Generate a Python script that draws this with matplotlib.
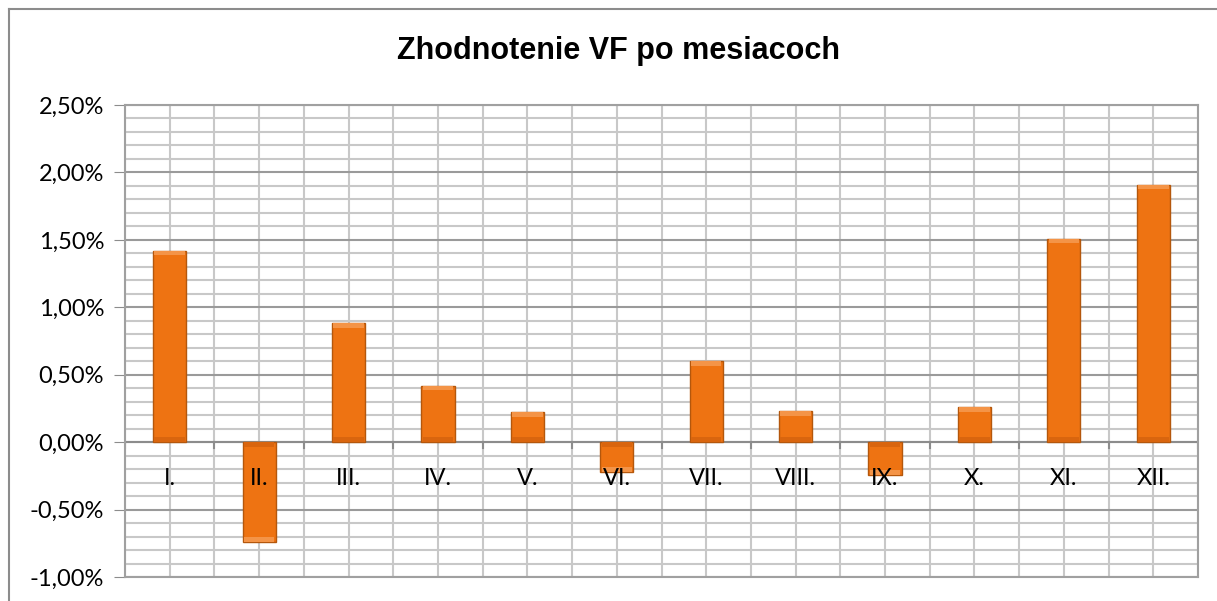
import matplotlib
matplotlib.use("Agg")
import matplotlib.pyplot as plt
from matplotlib.lines import Line2D
from matplotlib.ticker import FixedLocator, MultipleLocator, FuncFormatter
import numpy as np

# data
months = ["I.", "II.", "III.", "IV.", "V.", "VI.", "VII.", "VIII.", "IX.", "X.", "XI.", "XII."]
values = [1.42, -0.74, 0.88, 0.42, 0.22, -0.22, 0.60, 0.23, -0.24, 0.26, 1.51, 1.91]
title = "Zhodnotenie VF po mesiacoch"

def main():
    fig = plt.figure(figsize=(12.17, 6.01), dpi=100)
    ax = fig.add_axes([125 / 1217, 1 - 577 / 601, (1198 - 125) / 1217, (577 - 105) / 601])

    # chart border (top and left edge visible)
    fig.add_artist(Line2D([9 / 1217, 1.0], [1 - 9 / 601, 1 - 9 / 601], color="#8c8c8c", lw=1.5))
    fig.add_artist(Line2D([9 / 1217, 9 / 1217], [0.0, 1 - 9 / 601], color="#8c8c8c", lw=1.5))

    x = np.arange(len(months))
    w = 0.37
    ax.bar(x, values, width=w, color="#EE7312", edgecolor="#B4570C", linewidth=1.0, zorder=3)
    # soft bevel on the bar ends
    for xi, v in zip(x, values):
        s = np.sign(v)
        ax.bar(xi, 0.035 * s, bottom=v - 0.035 * s, width=w * 0.92,
               color="#F49447", linewidth=0, zorder=3.5)
        ax.bar(xi, 0.035 * s, bottom=0, width=w * 0.92,
               color="#D9650E", linewidth=0, zorder=3.5)

    ax.set_xlim(-0.5, len(months) - 0.5)
    ax.set_ylim(-1.0, 2.5)

    ax.yaxis.set_major_locator(MultipleLocator(0.5))
    ax.yaxis.set_minor_locator(MultipleLocator(0.1))
    ax.yaxis.set_major_formatter(FuncFormatter(lambda v, p: ("%.2f%%" % v).replace(".", ",")))
    ax.xaxis.set_major_locator(FixedLocator(np.arange(-0.5, len(months), 1.0)))
    ax.xaxis.set_minor_locator(FixedLocator(x))
    ax.set_xticklabels([])

    ax.set_axisbelow(True)
    ax.grid(which="major", axis="y", color="#9a9a9a", linewidth=1.5)
    ax.grid(which="minor", axis="y", color="#c8c8c8", linewidth=1.5)
    ax.grid(which="both", axis="x", color="#c8c8c8", linewidth=1.5)

    ax.tick_params(axis="y", which="major", direction="out", length=8, color="#8c8c8c",
                   labelsize=17, pad=7)
    ax.tick_params(axis="y", which="minor", length=0)
    ax.tick_params(axis="x", which="both", length=0)
    for lbl in ax.get_yticklabels():
        lbl.set_fontfamily("Lato")

    for s in ["left", "right", "top", "bottom"]:
        ax.spines[s].set_color("#a0a0a0")
        ax.spines[s].set_linewidth(1.5)

    # zero line + small ticks
    ax.axhline(0, color="#8c8c8c", linewidth=1.5, zorder=2)
    for b in np.arange(-0.5, len(months), 1.0):
        ax.plot([b, b], [0, -0.04], color="#8c8c8c", linewidth=1.5, zorder=2)

    # category labels at the zero line, drawn over the bars
    for xi, m in zip(x, months):
        ax.annotate(m, (xi, 0), xytext=(0, -26), textcoords="offset points",
                    ha="center", va="center", fontsize=17, family="Lato", zorder=5)

    fig.text(0.508, 0.915, title, ha="center", va="center", fontsize=22, fontweight="bold",
             family=["Liberation Sans", "DejaVu Sans"])

    fig.savefig("out.png", dpi=100)

main()
